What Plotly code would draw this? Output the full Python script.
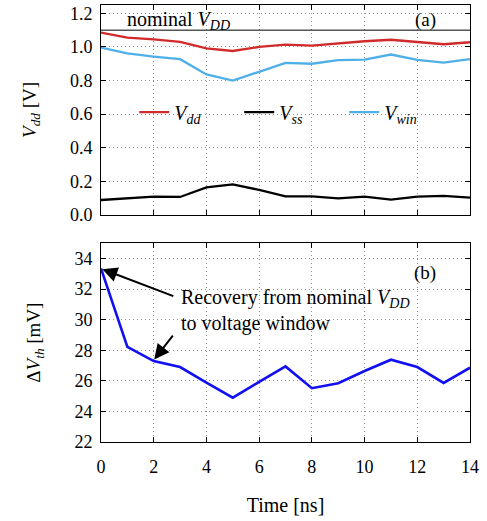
import plotly.graph_objects as go

time_ns = list(range(15))
v_dd = [1.085, 1.055, 1.045, 1.03, 0.992, 0.976, 1.0, 1.014, 1.008, 1.022, 1.034, 1.043, 1.028, 1.016, 1.028]
v_ss = [0.088, 0.098, 0.108, 0.106, 0.163, 0.181, 0.148, 0.11, 0.11, 0.098, 0.108, 0.09, 0.108, 0.113, 0.102]
v_win = [0.996, 0.962, 0.943, 0.927, 0.836, 0.80, 0.852, 0.905, 0.90, 0.921, 0.925, 0.955, 0.923, 0.907, 0.927]
delta_vth = [33.35, 28.22, 27.29, 26.9, 25.88, 24.9, 25.93, 26.94, 25.52, 25.84, 26.64, 27.38, 26.9, 25.86, 26.86]
nominal_vdd = 1.1

FONT = "Liberation Serif, Times New Roman, serif"
fig = go.Figure()

fig.add_trace(go.Scatter(x=time_ns, y=v_dd, mode="lines", line=dict(color="#d02a2a", width=2.3),
                         name="<i>V</i><sub><i>dd</i></sub>", xaxis="x", yaxis="y"))
fig.add_trace(go.Scatter(x=time_ns, y=v_ss, mode="lines", line=dict(color="black", width=2.3),
                         name="<i>V</i><sub><i>ss</i></sub>", xaxis="x", yaxis="y"))
fig.add_trace(go.Scatter(x=time_ns, y=v_win, mode="lines", line=dict(color="#4fb0e8", width=2.3),
                         name="<i>V</i><sub><i>win</i></sub>", xaxis="x", yaxis="y"))
fig.add_trace(go.Scatter(x=[0, 14], y=[nominal_vdd, nominal_vdd], mode="lines",
                         line=dict(color="black", width=1), showlegend=False, xaxis="x", yaxis="y"))
fig.add_trace(go.Scatter(x=time_ns, y=delta_vth, mode="lines", line=dict(color="#1010f0", width=2.6),
                         showlegend=False, xaxis="x2", yaxis="y2"))

axcommon = dict(showline=True, mirror="ticks", linecolor="black", linewidth=1,
                ticks="inside", ticklen=5, tickcolor="black",
                showgrid=True, gridcolor="#909090", griddash="1px,3px", gridwidth=1,
                zeroline=False, tickfont=dict(family=FONT, size=18, color="black"))

fig.update_layout(
    width=487, height=521,
    margin=dict(l=101, r=17, t=5, b=79),
    paper_bgcolor="white", plot_bgcolor="white",
    font=dict(family=FONT, size=18, color="black"),
    xaxis=dict(range=[0, 14], dtick=2, anchor="y", showticklabels=False, **axcommon),
    yaxis=dict(range=[0, 1.25], dtick=0.2, tickformat=".1f", domain=[0.52, 1.0], ticklabelstandoff=4,
               title=dict(text="<i>V</i><sub><i>dd</i></sub> [V]", standoff=28, font=dict(family=FONT, size=19)), **axcommon),
    xaxis2=dict(range=[0, 14], dtick=2, anchor="y2", ticklabelstandoff=8,
                title=dict(text="Time [ns]", standoff=22, font=dict(family=FONT, size=20)), **axcommon),
    yaxis2=dict(range=[22, 35], dtick=2, domain=[0.0, 0.455], anchor="x2", ticklabelstandoff=4,
                title=dict(text="Δ<i>V</i><sub><i>th</i></sub> [mV]", standoff=28, font=dict(family=FONT, size=19)), **axcommon),
    legend=dict(orientation="h", x=0.09, y=0.755, xanchor="left", yanchor="middle",
                bgcolor="rgba(0,0,0,0)", font=dict(family=FONT, size=20), itemwidth=30,
                entrywidth=60, tracegroupgap=0),
    showlegend=True,
)

fig.add_annotation(xref="x", yref="y", x=0.9, y=1.16, text="nominal <i>V</i><sub><i>DD</i></sub>",
                   showarrow=False, xanchor="left", yanchor="middle", font=dict(family=FONT, size=20))
fig.add_annotation(xref="x", yref="y", x=12.8, y=1.16, text="(a)",
                   showarrow=False, xanchor="right", yanchor="middle", font=dict(family=FONT, size=19))
fig.add_annotation(xref="x2", yref="y2", x=12.8, y=33.05, text="(b)",
                   showarrow=False, xanchor="right", yanchor="middle", font=dict(family=FONT, size=19))
fig.add_annotation(xref="x2", yref="y2", x=2.95, y=30.6,
                   text="Recovery from nominal <i>V</i><sub><i>DD</i></sub><br>to voltage window",
                   showarrow=False, xanchor="left", yanchor="middle", align="left",
                   font=dict(family=FONT, size=20))
fig.add_annotation(xref="x2", yref="y2", x=0.05, y=33.3, ax=2.8, ay=31.5, axref="x2", ayref="y2",
                   text="", showarrow=True, arrowhead=2, arrowsize=1.5, arrowwidth=2, arrowcolor="black")
fig.add_annotation(xref="x2", yref="y2", x=2.02, y=27.4, ax=2.77, ay=29.05, axref="x2", ayref="y2",
                   text="", showarrow=True, arrowhead=2, arrowsize=1.5, arrowwidth=2, arrowcolor="black")

fig.write_html("out.html")
